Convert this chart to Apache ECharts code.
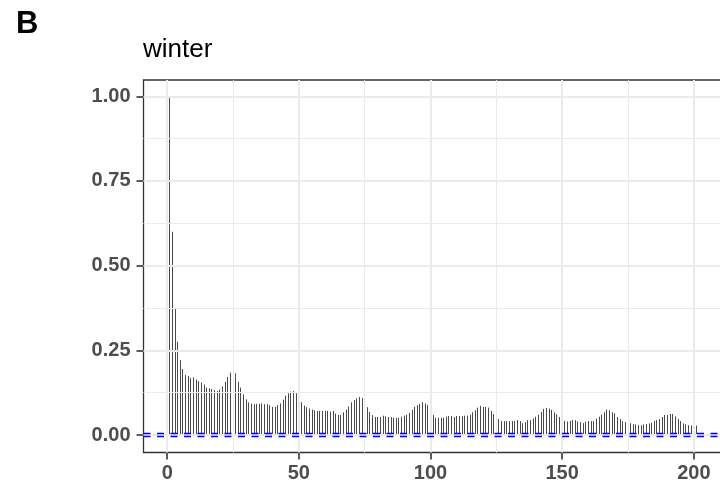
<!DOCTYPE html>
<html><head><meta charset="utf-8">
<script src="https://cdn.jsdelivr.net/npm/echarts@6/dist/echarts.min.js"></script>
<style>html,body{margin:0;padding:0;background:#fff}#c{width:720px;height:488px}</style>
</head><body><div id="c"></div>
<script>
const panelLabel = 'B';
const panelTitle = 'winter';
// ACF values, x index 1..201 (lag 0..200)
const acfValues = [
  1.0, 0.60, 0.372, 0.275, 0.221, 0.195, 0.177, 0.174, 0.169, 0.17,
  0.164, 0.159, 0.155, 0.149, 0.14, 0.138, 0.136, 0.133, 0.13, 0.134,
  0.143, 0.157, 0.171, 0.184, 0.189, 0.182, 0.157, 0.14, 0.12, 0.105,
  0.096, 0.092, 0.091, 0.092, 0.092, 0.093, 0.091, 0.091, 0.088, 0.083,
  0.083, 0.088, 0.093, 0.104, 0.116, 0.123, 0.128, 0.13, 0.123, 0.11,
  0.097, 0.087, 0.082, 0.078, 0.075, 0.073, 0.071, 0.071, 0.071, 0.071,
  0.071, 0.069, 0.071, 0.063, 0.059, 0.059, 0.067, 0.075, 0.084, 0.096,
  0.103, 0.108, 0.112, 0.109, 0.097, 0.082, 0.068, 0.059, 0.053, 0.053,
  0.053, 0.057, 0.055, 0.053, 0.053, 0.051, 0.051, 0.051, 0.054, 0.057,
  0.059, 0.065, 0.074, 0.083, 0.088, 0.092, 0.097, 0.093, 0.088, 0.075,
  0.059, 0.051, 0.051, 0.051, 0.051, 0.054, 0.056, 0.056, 0.053, 0.056,
  0.056, 0.055, 0.057, 0.057, 0.06, 0.067, 0.073, 0.081, 0.086, 0.083,
  0.083, 0.081, 0.071, 0.062, 0.053, 0.047, 0.041, 0.041, 0.041, 0.041,
  0.041, 0.041, 0.044, 0.041, 0.035, 0.038, 0.044, 0.044, 0.049, 0.054,
  0.06, 0.068, 0.077, 0.08, 0.078, 0.074, 0.067, 0.061, 0.053, 0.046,
  0.042, 0.04, 0.042, 0.044, 0.044, 0.04, 0.038, 0.035, 0.039, 0.041,
  0.041, 0.041, 0.048, 0.054, 0.06, 0.067, 0.075, 0.073, 0.067, 0.064,
  0.053, 0.047, 0.041, 0.038, 0.038, 0.035, 0.032, 0.031, 0.029, 0.029,
  0.031, 0.032, 0.034, 0.036, 0.041, 0.044, 0.047, 0.053, 0.059, 0.059,
  0.062, 0.062, 0.055, 0.047, 0.041, 0.034, 0.031, 0.029, 0.028, 0.028,
  0.028
];
const xTicks = [0, 50, 100, 150, 200];
const xMinor = [25, 75, 125, 175];
const yTicks = [0, 0.25, 0.5, 0.75, 1];
const yMinor = [0.125, 0.375, 0.625, 0.875];
const ciBound = 0.0048;

const FONT = '"Liberation Sans", Arial, Helvetica, sans-serif';
const gridColor = '#EBEBEB';

const gridLines = [];
xTicks.forEach(v => gridLines.push({xAxis: v, lineStyle: {color: gridColor, width: 2, type: 'solid'}}));
xMinor.forEach(v => gridLines.push({xAxis: v, lineStyle: {color: gridColor, width: 1, type: 'solid'}}));
yTicks.forEach(v => gridLines.push({yAxis: v, lineStyle: {color: gridColor, width: 2, type: 'solid'}}));
yMinor.forEach(v => gridLines.push({yAxis: v, lineStyle: {color: gridColor, width: 1, type: 'solid'}}));

const chart = echarts.init(document.getElementById('c'), null, {renderer: 'canvas'});
const axisLabelStyle = {fontSize: 20, fontWeight: 'bold', color: '#4D4D4D', fontFamily: FONT};
chart.setOption({
  animation: false,
  backgroundColor: '#ffffff',
  title: [
    {text: panelLabel, left: 16, top: 9, padding: 0, textStyle: {fontSize: 31, fontWeight: 'bold', color: '#000', fontFamily: FONT}},
    {text: panelTitle, left: 143, top: 37, padding: 0, textStyle: {fontSize: 26, fontWeight: 'normal', color: '#000', fontFamily: FONT}}
  ],
  grid: {left: 143.5, top: 80, width: 579.3, height: 372.5, show: true, borderColor: '#333333', borderWidth: 1.3,
    backgroundColor: 'transparent', containLabel: false, outerBoundsMode: 'none'},
  xAxis: {
    type: 'value', min: -9, max: 211,
    splitLine: {show: false},
    axisLine: {show: false, onZero: false},
    axisTick: {show: true, customValues: xTicks, length: 7, lineStyle: {color: '#333333', width: 1.6}},
    axisLabel: Object.assign({customValues: xTicks, margin: 11}, axisLabelStyle)
  },
  yAxis: {
    type: 'value', min: -0.0517, max: 1.048,
    splitLine: {show: false},
    axisLine: {show: false, onZero: false},
    axisTick: {show: true, customValues: yTicks, length: 7, lineStyle: {color: '#333333', width: 1.6}},
    axisLabel: Object.assign({customValues: yTicks, margin: 13, formatter: v => v.toFixed(2)}, axisLabelStyle)
  },
  series: [
    {
      type: 'line', data: [], z: 1, silent: true,
      markLine: {silent: true, precision: 4, symbol: ['none', 'none'], label: {show: false}, emphasis: {disabled: true}, animation: false, data: gridLines}
    },
    {
      type: 'custom', z: 2, silent: true,
      data: acfValues.map((v, i) => [i + 1, v]),
      renderItem: function (params, api) {
        const x = api.value(0), y = api.value(1);
        const p0 = api.coord([x, 0]);
        const p1 = api.coord([x, y]);
        const px = Math.round(p0[0] - 0.5) + 0.5;
        return {type: 'line', shape: {x1: px, y1: p0[1], x2: px, y2: p1[1]},
          style: {stroke: '#4A4A4A', lineWidth: 1}};
      }
    },
    {
      type: 'line', data: [], z: 3, silent: true,
      markLine: {silent: true, precision: 5, symbol: ['none', 'none'], label: {show: false}, emphasis: {disabled: true}, animation: false,
        lineStyle: {color: '#0000FF', width: 1.4, type: [7, 6.5]},
        data: [{yAxis: ciBound}, {yAxis: -ciBound}]}
    }
  ]
});
</script></body></html>
